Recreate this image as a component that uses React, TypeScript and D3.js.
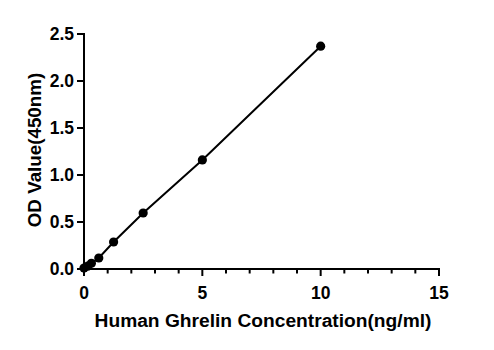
import React from "react";
import * as d3 from "d3";

const concentrations = [0, 0.156, 0.3125, 0.625, 1.25, 2.5, 5, 10];
const odValues = [0.01, 0.03, 0.06, 0.117, 0.287, 0.596, 1.16, 2.37];
const xTicks = [0, 5, 10, 15];
const xMinorTicks = d3.range(0, 16, 1);
const yTicks = [0, 0.5, 1.0, 1.5, 2.0, 2.5];

export default function App() {
  const W = 494, H = 350;
  const x = d3.scaleLinear().domain([0, 15]).range([84, 439]);
  const y = d3.scaleLinear().domain([0, 2.5]).range([269, 34]);
  const line = d3.line<number>().x((d, i) => x(concentrations[i])).y((d) => y(d));
  const font = "'Liberation Sans', Arial, sans-serif";
  return (
    <svg width={W} height={H} style={{ position: "absolute", left: 0, top: 0, background: "#fff" }}>
      <rect width={W} height={H} fill="#fff" />
      <path d={line(odValues) || ""} fill="none" stroke="#000" strokeWidth={2} />
      {odValues.map((v, i) => (
        <circle key={i} cx={x(concentrations[i])} cy={y(v)} r={4.6} fill="#000" />
      ))}
      {/* axes */}
      <line x1={x(0)} x2={x(15) + 1} y1={y(0)} y2={y(0)} stroke="#000" strokeWidth={2} />
      <line x1={x(0)} x2={x(0)} y1={y(0) + 1} y2={y(2.5) - 1} stroke="#000" strokeWidth={2} />
      {xMinorTicks.map((t) => (
        <line key={"m" + t} x1={x(t)} x2={x(t)} y1={y(0)} y2={y(0) + (t % 5 === 0 ? 7 : 4.5)} stroke="#000" strokeWidth={2} />
      ))}
      {xTicks.map((t) => (
        <text key={"xt" + t} x={x(t)} y={y(0) + 30} textAnchor="middle" fontFamily={font} fontWeight="bold" fontSize={17.5}>
          {t}
        </text>
      ))}
      {yTicks.map((t) => (
        <g key={"yt" + t}>
          <line x1={x(0) - 7} x2={x(0)} y1={y(t)} y2={y(t)} stroke="#000" strokeWidth={2} />
          <text x={x(0) - 10} y={y(t) + 5.5} textAnchor="end" fontFamily={font} fontWeight="bold" fontSize={17.5}>
            {t.toFixed(1)}
          </text>
        </g>
      ))}
      <text x={263} y={327} textAnchor="middle" fontFamily={font} fontWeight="bold" fontSize={19.2}>
        Human Ghrelin Concentration(ng/ml)
      </text>
      <text transform={`translate(41,150) rotate(-90)`} textAnchor="middle" fontFamily={font} fontWeight="bold" fontSize={18.8}>
        OD Value(450nm)
      </text>
    </svg>
  );
}
